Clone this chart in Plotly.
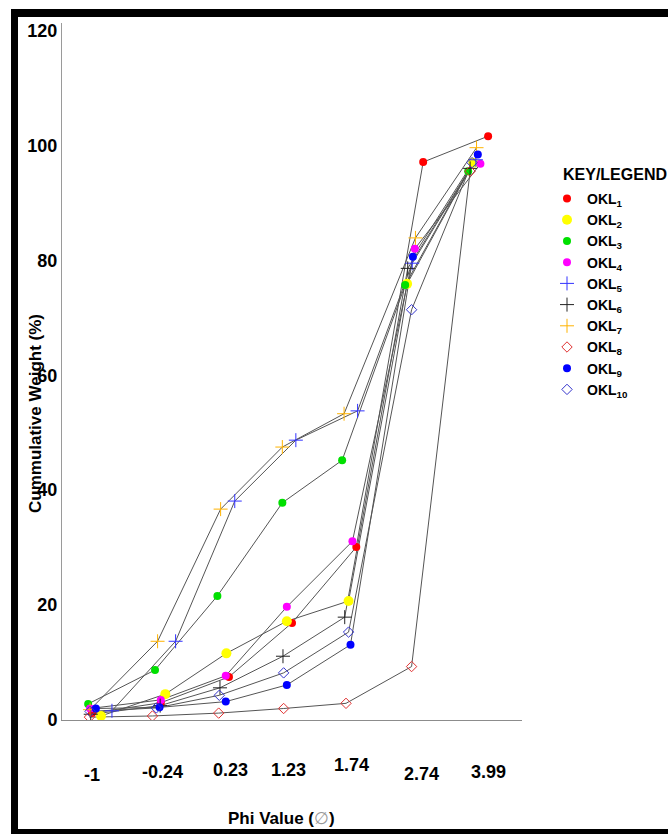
import plotly.graph_objects as go

# ---------------- data ----------------
phi_labels = ["-1", "-0.24", "0.23", "1.23", "1.74", "2.74", "3.99"]
phi_label_pos = [0.0, 1.10, 2.15, 3.05, 4.04, 5.12, 6.17]

series_names = ["OKL<sub>1</sub>", "OKL<sub>2</sub>", "OKL<sub>3</sub>", "OKL<sub>4</sub>",
                "OKL<sub>5</sub>", "OKL<sub>6</sub>", "OKL<sub>7</sub>", "OKL<sub>8</sub>",
                "OKL<sub>9</sub>", "OKL<sub>10</sub>"]

okl1_x = [0.00, 1.07, 2.13, 3.11, 4.11, 5.15, 6.16]
okl1_y = [1.2, 3.0, 7.5, 16.9, 30.1, 97.1, 101.6]
okl2_x = [0.14, 1.14, 2.09, 3.03, 3.99, 4.90, 5.93]
okl2_y = [0.7, 4.5, 11.6, 17.2, 20.7, 75.9, 97.0]
okl3_x = [-0.06, 0.98, 1.95, 2.96, 3.89, 4.87, 5.85]
okl3_y = [2.8, 8.7, 21.6, 37.8, 45.2, 75.7, 95.5]
okl4_x = [-0.03, 1.07, 2.08, 3.03, 4.05, 5.02, 6.04]
okl4_y = [2.0, 3.5, 7.7, 19.7, 31.1, 82.0, 96.8]
okl5_x = [0.31, 1.30, 2.22, 3.17, 4.13, 4.98, 5.97]
okl5_y = [1.6, 13.7, 38.1, 48.7, 53.8, 79.5, 97.5]
okl6_x = [-0.02, 1.06, 1.99, 2.97, 3.93, 4.91, 5.88]
okl6_y = [1.0, 2.5, 5.6, 11.1, 17.9, 78.6, 96.0]
okl7_x = [-0.03, 1.02, 2.00, 2.96, 3.92, 5.03, 5.98]
okl7_y = [1.8, 13.7, 36.7, 47.5, 53.3, 83.9, 99.6]
okl8_x = [-0.04, 0.94, 1.97, 2.98, 3.95, 4.97, 5.88]
okl8_y = [0.5, 0.7, 1.2, 2.0, 2.9, 9.3, 95.5]
okl9_x = [0.06, 1.05, 2.08, 3.03, 4.02, 4.99, 6.00]
okl9_y = [2.0, 2.2, 3.2, 6.1, 13.1, 80.6, 98.4]
okl10_x = [-0.03, 1.00, 1.98, 2.98, 3.99, 4.97, 5.91]
okl10_y = [1.5, 2.1, 4.3, 8.2, 15.3, 71.4, 97.0]

y_ticks = [0, 20, 40, 60, 80, 100, 120]

# ---------------- styles ----------------
xs = [okl1_x, okl2_x, okl3_x, okl4_x, okl5_x, okl6_x, okl7_x, okl8_x, okl9_x, okl10_x]
ys = [okl1_y, okl2_y, okl3_y, okl4_y, okl5_y, okl6_y, okl7_y, okl8_y, okl9_y, okl10_y]
styles = [
    dict(color="#ff0000", symbol="circle", size=8),
    dict(color="#ffff00", symbol="circle", size=10),
    dict(color="#00e000", symbol="circle", size=8),
    dict(color="#ff00ff", symbol="circle", size=8),
    dict(color="#3333ff", symbol="cross-thin", size=10),
    dict(color="#222222", symbol="cross-thin", size=10),
    dict(color="#ffb300", symbol="cross-thin", size=10),
    dict(color="#e03030", symbol="diamond-open", size=8),
    dict(color="#0000ff", symbol="circle", size=8),
    dict(color="#3333cc", symbol="diamond-open", size=8),
]

W, H = 668, 834
L, R, T, B = 62, 146, 23, 114
PW, PH = W - L - R, H - T - B


def px(x):
    return (x - L) / PW


def py(y):
    return (H - B - y) / PH


FONT = "Liberation Sans, Arial, sans-serif"

fig = go.Figure()

# connecting lines
for x, y in zip(xs, ys):
    fig.add_trace(go.Scatter(x=x, y=y, mode="lines", showlegend=False, hoverinfo="skip",
                             line=dict(color="#555555", width=1)))

# markers (and legend entries)
for name, x, y, st in zip(series_names, xs, ys, styles):
    if st["symbol"] in ("cross-thin", "diamond-open"):
        marker = dict(symbol=st["symbol"], size=st["size"], color=st["color"],
                      line=dict(color=st["color"], width=1))
    else:
        marker = dict(symbol=st["symbol"], size=st["size"], color=st["color"], line=dict(width=0))
    fig.add_trace(go.Scatter(x=x, y=y, mode="markers", name="<b>" + name + "</b>",
                             marker=marker))

annotations = []
# x tick labels (slightly staggered as in the original)
label_y = [775, 771.5, 770, 770, 765.5, 774, 772]
for lab, pos, yy in zip(phi_labels, phi_label_pos, label_y):
    annotations.append(dict(x=pos, y=py(yy), xref="x", yref="paper", text="<b>" + lab + "</b>",
                            showarrow=False, xanchor="center", yanchor="middle",
                            font=dict(family=FONT, size=18, color="black")))
# axis titles
annotations.append(dict(x=px(281), y=py(818), xref="paper", yref="paper",
                        text="<b>Phi Value (</b><span style='color:#999999'>∅</span><b>)</b>",
                        showarrow=False, xanchor="center", yanchor="middle",
                        font=dict(family=FONT, size=17, color="black")))
annotations.append(dict(x=px(35), y=py(414), xref="paper", yref="paper",
                        text="<b>Cummulative Weight (%)</b>", textangle=-90,
                        showarrow=False, xanchor="center", yanchor="middle",
                        font=dict(family=FONT, size=17, color="black")))
annotations.append(dict(x=px(561), y=py(174), xref="paper", yref="paper",
                        text="<b>KEY/LEGEND</b>", showarrow=False,
                        xanchor="left", yanchor="middle",
                        font=dict(family=FONT, size=16, color="black")))

shapes = [
    # outer black frame
    dict(type="rect", xref="paper", yref="paper", x0=px(11), x1=px(18), y0=py(834), y1=py(9),
         fillcolor="black", line=dict(width=0), layer="above"),
    dict(type="rect", xref="paper", yref="paper", x0=px(11), x1=px(668), y0=py(17), y1=py(9),
         fillcolor="black", line=dict(width=0), layer="above"),
    dict(type="rect", xref="paper", yref="paper", x0=px(11), x1=px(668), y0=py(834), y1=py(829),
         fillcolor="black", line=dict(width=0), layer="above"),
]

fig.update_layout(
    width=W, height=H, autosize=False,
    margin=dict(l=L, r=R, t=T, b=B, pad=0),
    paper_bgcolor="white", plot_bgcolor="white",
    font=dict(family=FONT, color="black"),
    xaxis=dict(range=[-0.4666, 6.687], showticklabels=False, ticks="", showgrid=False,
               zeroline=False, showline=True, linecolor="#8c8c8c", linewidth=1),
    yaxis=dict(range=[0, 121.3], tickvals=y_ticks, ticktext=["<b>%d</b>" % v for v in y_ticks],
               tickfont=dict(family=FONT, size=18, color="black"), ticks="",
               showgrid=False, zeroline=False, showline=True, linecolor="#9a9a9a", linewidth=1),
    legend=dict(x=px(547), y=py(183), xanchor="left", yanchor="top",
                bgcolor="rgba(0,0,0,0)", borderwidth=0, tracegroupgap=0,
                font=dict(family=FONT, size=14, color="black"), itemwidth=30),
    showlegend=True,
    annotations=annotations,
    shapes=shapes,
)

fig.write_html("out.html", config={"displayModeBar": False},
               post_script="document.body.style.margin='0';document.body.style.overflow='hidden';")
